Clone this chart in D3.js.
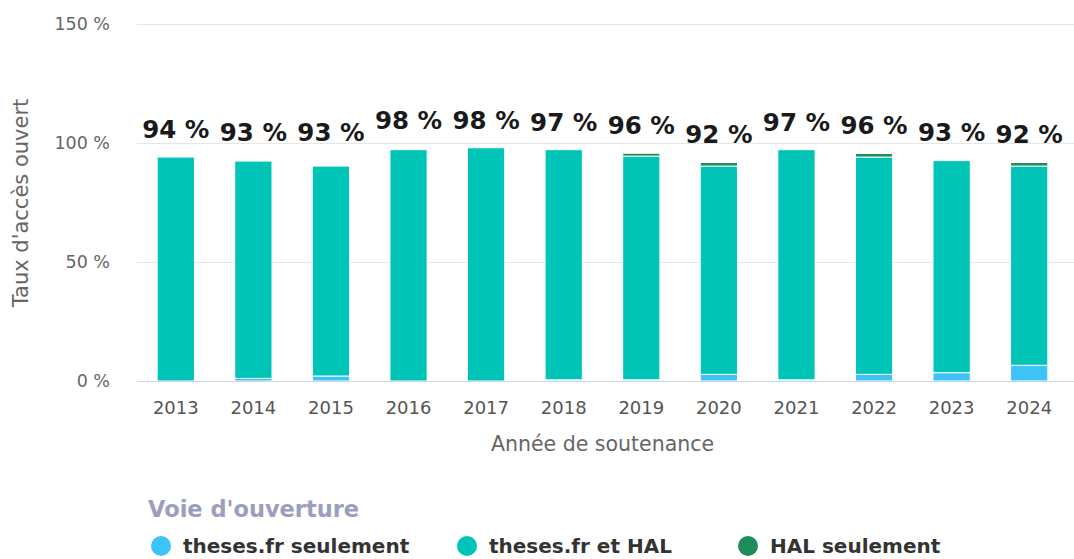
<!DOCTYPE html>
<html>
<head>
<meta charset="utf-8">
<script src="https://cdn.jsdelivr.net/npm/d3@7"></script>
<style>
  body { margin: 0; background: #fff; }
  text { font-family: "DejaVu Sans", sans-serif; }
</style>
</head>
<body>
<script>
// données
const annees = ['2013','2014','2015','2016','2017','2018','2019','2020','2021','2022','2023','2024'];
const thesesSeul = [0, 1.1, 2.1, 0, 0, 0.5, 0.5, 2.8, 0.5, 2.8, 3.5, 6.6];
const thesesEtHal = [94.1, 91.3, 88.2, 97.2, 98, 96.7, 94, 87.5, 96.7, 91.3, 89.1, 83.7];
const halSeul = [0, 0, 0, 0, 0, 0, 1.2, 1.5, 0, 1.5, 0, 1.5];
const tauxAffiches = [94, 93, 93, 98, 98, 97, 96, 92, 97, 96, 93, 92];
const yTicks = [0, 50, 100, 150];

const series = [
  {key: 'thesesSeul', name: 'theses.fr seulement', color: '#3ec3f7'},
  {key: 'thesesEtHal', name: 'theses.fr et HAL', color: '#00c4b5'},
  {key: 'halSeul', name: 'HAL seulement', color: '#1f8c5a'}
];

const width = 1074, height = 559;
const margin = {top: 22, left: 137, right: 6, bottom: 178};

const rows = annees.map((a, i) => ({
  annee: a, thesesSeul: thesesSeul[i], thesesEtHal: thesesEtHal[i], halSeul: halSeul[i], taux: tauxAffiches[i]
}));

const svg = d3.select('body').append('svg')
  .attr('width', width)
  .attr('height', height);

const x = d3.scaleBand()
  .domain(annees)
  .range([margin.left, width - margin.right])
  .paddingInner(0.52)
  .paddingOuter(0.26);

const y = d3.scaleLinear()
  .domain([0, 150])
  .range([height - margin.bottom, margin.top + 2]);

// grille
svg.append('g')
  .selectAll('line')
  .data(yTicks.filter(d => d > 0))
  .join('line')
  .attr('x1', margin.left)
  .attr('x2', width)
  .attr('y1', d => Math.round(y(d)) + 0.5)
  .attr('y2', d => Math.round(y(d)) + 0.5)
  .attr('stroke', '#e6e6e6');

// axe y
const yAxis = svg.append('g')
  .attr('transform', `translate(${margin.left},0)`)
  .call(d3.axisLeft(y).tickValues(yTicks).tickFormat(d => d + ' %').tickSize(0).tickPadding(27));
yAxis.select('.domain').remove();
yAxis.selectAll('text')
  .attr('fill', '#666')
  .attr('font-size', 17.5)
  .attr('font-family', '"DejaVu Sans", sans-serif');

svg.append('text')
  .attr('transform', `translate(28,203) rotate(-90)`)
  .attr('text-anchor', 'middle')
  .attr('fill', '#666')
  .attr('font-size', 21)
  .text("Taux d'accès ouvert");

// barres empilées
const stack = d3.stack().keys(series.map(s => s.key));
const stacked = stack(rows);

svg.append('g')
  .selectAll('g')
  .data(stacked)
  .join('g')
  .attr('fill', (d, i) => series[i].color)
  .selectAll('rect')
  .data(d => d.filter(p => p[1] - p[0] > 0))
  .join('rect')
  .attr('x', d => x(d.data.annee))
  .attr('width', x.bandwidth())
  .attr('y', d => y(d[1]))
  .attr('height', d => y(d[0]) - y(d[1]))
  .attr('stroke', '#fff')
  .attr('stroke-width', 1);

// axe x
const xAxis = svg.append('g')
  .attr('transform', `translate(0,${Math.round(y(0)) + 0.5})`)
  .call(d3.axisBottom(x).tickSize(0).tickPadding(20));
xAxis.select('.domain')
  .attr('stroke', '#ccd6eb')
  .attr('d', `M${margin.left},0H${width}`);
xAxis.selectAll('text')
  .attr('fill', '#555')
  .attr('font-size', 18)
  .attr('font-family', '"DejaVu Sans", sans-serif');

svg.append('text')
  .attr('x', (margin.left + width - margin.right) / 2)
  .attr('y', 451)
  .attr('text-anchor', 'middle')
  .attr('fill', '#666')
  .attr('font-size', 20.5)
  .text('Année de soutenance');

// étiquettes de total
svg.append('g')
  .selectAll('text')
  .data(rows)
  .join('text')
  .attr('x', d => x(d.annee) + x.bandwidth() / 2)
  .attr('y', d => y(d.taux) - 19)
  .attr('text-anchor', 'middle')
  .attr('font-size', 24.5)
  .attr('font-weight', 700)
  .attr('fill', '#1a1a1a')
  .text(d => d.taux + ' %');

// légende
const legend = svg.append('g');
legend.append('text')
  .attr('x', 148)
  .attr('y', 517)
  .attr('fill', '#9b9ebe')
  .attr('font-size', 22.5)
  .attr('font-weight', 700)
  .text("Voie d'ouverture");

const legendX = [161, 467, 748];
const item = legend.selectAll('g.item')
  .data(series)
  .join('g')
  .attr('class', 'item')
  .attr('transform', (d, i) => `translate(${legendX[i]},546)`);
item.append('circle')
  .attr('r', 10)
  .attr('fill', d => d.color);
item.append('text')
  .attr('x', 22)
  .attr('y', 7)
  .attr('fill', '#333')
  .attr('font-size', 20)
  .attr('font-weight', 700)
  .text(d => d.name);
</script>
</body>
</html>
